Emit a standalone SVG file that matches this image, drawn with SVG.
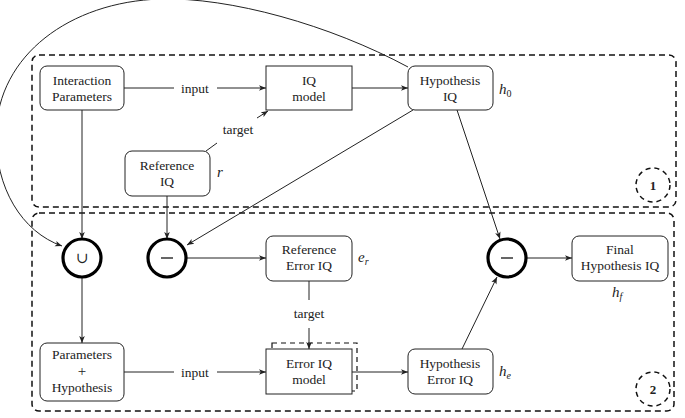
<svg xmlns="http://www.w3.org/2000/svg" width="685" height="418" viewBox="0 0 685 418" font-family="Liberation Serif, Tinos, Times New Roman, DejaVu Serif, serif">
<defs>
<marker id="arr" viewBox="0 0 10 10" refX="10" refY="5" markerWidth="7" markerHeight="7" markerUnits="userSpaceOnUse" orient="auto">
<path d="M0,1 L10,5 L0,9 L2.5,5 Z" fill="#222"/>
</marker>
</defs>
<style>
.bg{fill:#fff}
.box{fill:#fff;stroke:#222;stroke-width:1}
.dash{fill:none;stroke:#111;stroke-width:1.5;stroke-dasharray:6,4}
.op{fill:#fff;stroke:#000;stroke-width:3.2}
.ln{fill:none;stroke:#222;stroke-width:1}
.ar{marker-end:url(#arr)}
text{font-family:'Liberation Serif',Tinos,'Times New Roman','DejaVu Serif',serif;font-size:13.5px;fill:#222;text-anchor:middle}
.m{font-style:italic;font-size:15px;text-anchor:start}
.sub{font-size:10px}
.up{font-style:normal}
.big{font-weight:bold;font-size:13px}
</style>
<rect class="bg" x="0" y="0" width="685" height="418"/>

<g id="stage1">
<rect class="dash" x="32" y="55" width="644" height="152" rx="7"/>
<circle class="dash" cx="653" cy="185" r="17" style="stroke-dasharray:5,4"/>
<text class="big" x="653" y="190">1</text>
</g>
<g id="stage2">
<rect class="dash" x="32" y="213" width="642" height="198" rx="7"/>
<circle class="dash" cx="653" cy="389" r="17" style="stroke-dasharray:5,4"/>
<text class="big" x="653" y="394">2</text>
</g>

<g id="connectors">
<path class="ln ar" d="M408,67 C330,25 230,-3 160,-1 C70,2 -2,55 -4,133 C-5,188 22,232 62,246"/>
<line class="ln" x1="124" y1="88" x2="174" y2="88"/>
<line class="ln ar" x1="217" y1="88" x2="266" y2="88"/>
<line class="ln ar" x1="352" y1="88" x2="408" y2="88"/>
<line class="ln" x1="206" y1="151" x2="217" y2="143"/>
<line class="ln ar" x1="257" y1="118" x2="268" y2="111"/>
<line class="ln ar" x1="82" y1="110" x2="82" y2="239"/>
<line class="ln ar" x1="167" y1="196" x2="167" y2="239"/>
<line class="ln ar" x1="413" y1="110" x2="187" y2="245"/>
<line class="ln ar" x1="457" y1="110" x2="500" y2="239"/>
<line class="ln ar" x1="186" y1="258" x2="266" y2="258"/>
<line class="ln ar" x1="526" y1="258" x2="572" y2="258"/>
<line class="ln ar" x1="82" y1="277" x2="82" y2="343"/>
<line class="ln" x1="309" y1="281" x2="309" y2="300"/>
<line class="ln ar" x1="309" y1="328" x2="309" y2="349"/>
<line class="ln" x1="124" y1="372" x2="174" y2="372"/>
<line class="ln ar" x1="217" y1="372" x2="266" y2="372"/>
<line class="ln ar" x1="352" y1="372" x2="408" y2="372"/>
<line class="ln ar" x1="462" y1="349" x2="497" y2="277"/>
<text x="195" y="93">input</text>
<text x="238" y="134">target</text>
<text x="309" y="318">target</text>
<text x="195" y="377">input</text>
</g>

<g id="interaction-parameters">
<rect class="box" x="40" y="66" width="84" height="44" rx="7"/>
<text x="82" y="85">Interaction</text>
<text x="82" y="101">Parameters</text>
</g>
<g id="iq-model">
<rect class="box" x="266" y="66" width="86" height="44"/>
<text x="309" y="85">IQ</text>
<text x="309" y="101">model</text>
</g>
<g id="hypothesis-iq">
<rect class="box" x="408" y="66" width="85" height="44" rx="7"/>
<text x="450" y="85">Hypothesis</text>
<text x="450" y="101">IQ</text>
<text class="m" x="499" y="94">h<tspan class="sub up" dy="3">0</tspan></text>
</g>
<g id="reference-iq">
<rect class="box" x="125" y="151" width="85" height="45" rx="7"/>
<text x="167" y="170">Reference</text>
<text x="167" y="186">IQ</text>
<text class="m" x="217" y="177">r</text>
</g>
<g id="union">
<circle class="op" cx="82" cy="258" r="19"/>
<text x="82" y="263" style="font-size:15px">∪</text>
</g>
<g id="minus1">
<circle class="op" cx="167" cy="258" r="19"/>
<line x1="161" y1="258" x2="173" y2="258" stroke="#000" stroke-width="1.2"/>
</g>
<g id="reference-error-iq">
<rect class="box" x="266" y="236" width="86" height="45" rx="7"/>
<text x="309" y="254">Reference</text>
<text x="309" y="270">Error IQ</text>
<text class="m" x="358" y="262">e<tspan class="sub" dy="3">r</tspan></text>
</g>
<g id="minus2">
<circle class="op" cx="507" cy="258" r="19"/>
<line x1="501" y1="258" x2="513" y2="258" stroke="#000" stroke-width="1.2"/>
</g>
<g id="final-hypothesis-iq">
<rect class="box" x="572" y="236" width="96" height="45" rx="7"/>
<text x="620" y="254">Final</text>
<text x="620" y="270">Hypothesis IQ</text>
<text class="m" x="612" y="297">h<tspan class="sub" dy="3">f</tspan></text>
</g>
<g id="parameters-hypothesis">
<rect class="box" x="40" y="343" width="84" height="58" rx="7"/>
<text x="82" y="359">Parameters</text>
<text x="82" y="376" style="font-size:15px">+</text>
<text x="82" y="392">Hypothesis</text>
</g>
<g id="error-iq-model">
<rect class="dash" x="272" y="343" width="85" height="48" style="stroke-width:1.2;stroke-dasharray:5,4"/>
<rect class="box" x="266" y="349" width="86" height="45"/>
<text x="309" y="368">Error IQ</text>
<text x="309" y="384">model</text>
</g>
<g id="hypothesis-error-iq">
<rect class="box" x="408" y="349" width="85" height="45" rx="7"/>
<text x="450" y="368">Hypothesis</text>
<text x="450" y="384">Error IQ</text>
<text class="m" x="499" y="376">h<tspan class="sub" dy="3">e</tspan></text>
</g>
</svg>
